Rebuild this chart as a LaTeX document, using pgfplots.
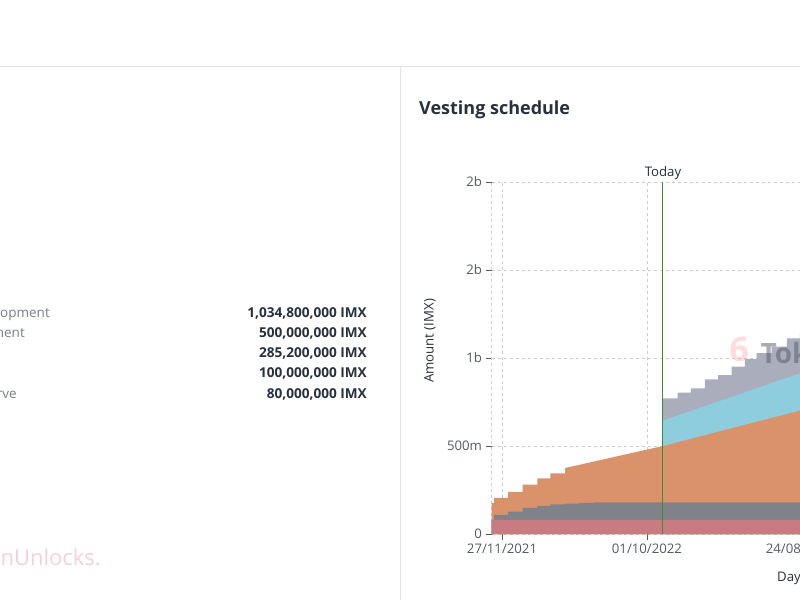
\documentclass[border=0pt]{standalone}
\usepackage{fontspec}
\setmainfont{Open Sans}
\usepackage{pgfplots}
\pgfplotsset{compat=1.18}
\definecolor{cPink}{HTML}{C97B82}
\definecolor{cGray}{HTML}{808289}
\definecolor{cOrange}{HTML}{D9926A}
\definecolor{cBlue}{HTML}{8ECDDD}
\definecolor{cSlate}{HTML}{AAADBB}
\definecolor{cGreen}{HTML}{3D8C3D}
\definecolor{cLine}{HTML}{E3E3E3}
\definecolor{cGrid}{HTML}{CCCCCC}
\definecolor{cTick}{HTML}{555B66}
\definecolor{cDark}{HTML}{27303D}
\definecolor{cLabel}{HTML}{7A7F87}
\definecolor{cWm}{HTML}{F4D0DC}
\begin{document}
\begin{tikzpicture}[x=1pt,y=1pt]
\path[use as bounding box] (0,0) rectangle (800,600);
\clip (0,0) rectangle (800,600);
\fill[white] (0,0) rectangle (800,600);
\draw[cLine, line width=1pt] (0,533) -- (800,533);
\draw[cLine, line width=1pt] (400,533) -- (400,0);
% left panel
\begin{scope}[every node/.style={inner sep=0pt}]
\node[anchor=base east, text=cLabel, font=\fontsize{13.5}{15}\selectfont] at (50,282) {Ecosystem Development};
\node[anchor=base east, text=cLabel, font=\fontsize{13.5}{15}\selectfont] at (25,262) {Project Development};
\node[anchor=base east, text=cLabel, font=\fontsize{13.5}{15}\selectfont] at (17,201) {Foundation Reserve};
\node[anchor=base east, text=cDark, font=\fontsize{13.6}{15}\selectfont\bfseries] at (367,282) {1,034,800,000 IMX};
\node[anchor=base east, text=cDark, font=\fontsize{13.6}{15}\selectfont\bfseries] at (367,262) {500,000,000 IMX};
\node[anchor=base east, text=cDark, font=\fontsize{13.6}{15}\selectfont\bfseries] at (367,242) {285,200,000 IMX};
\node[anchor=base east, text=cDark, font=\fontsize{13.6}{15}\selectfont\bfseries] at (367,222) {100,000,000 IMX};
\node[anchor=base east, text=cDark, font=\fontsize{13.6}{15}\selectfont\bfseries] at (367,201) {80,000,000 IMX};
\node[anchor=base east, text=cWm, font=\fontsize{22}{26}\selectfont] at (101,35) {TokenUnlocks.};
% right panel texts
\node[anchor=base west, text=cDark, font=\fontsize{18}{21}\selectfont\bfseries] at (419,485) {Vesting schedule};
\node[anchor=center, text=cDark, font=\fontsize{13.2}{15}\selectfont] at (663,427) {Today};
\node[anchor=center, rotate=90, text=cDark, font=\fontsize{13.2}{15}\selectfont] at (430,259) {Amount (IMX)};
\node[anchor=base west, text=cDark, font=\fontsize{13.2}{15}\selectfont] at (777,19) {Days};
\end{scope}
\begin{axis}[
  at={(491.5pt,66pt)}, anchor=south west,
  scale only axis, width=340pt, height=352pt,
  xmin=-22.3, xmax=700, ymin=0, ymax=2000,
  axis line style={draw=none},
  xtick={0,308,635}, xticklabels={27/11/2021,01/10/2022,24/08/2023},
  ytick={0,500,1000,1500,2000}, yticklabels={0,500m,1b,2b,2b},
  extra x ticks={-22.3}, extra x tick labels={},
  extra x tick style={major tick length=0pt},
  tick align=outside, xtick pos=bottom, ytick pos=left,
  major tick length=6pt,
  tick style={cTick, line width=0.8pt},
  grid=major,
  major grid style={cGrid, dash pattern=on 3pt off 3pt, line width=0.7pt},
  ticklabel style={text=cTick, font=\fontsize{13.2}{15}\selectfont},
  /pgf/number format/assume math mode=true,
  clip=false,
]
\addplot[fill=cSlate, draw=none] coordinates {(342,0)(342,771)(373,771)(373,803)(401,803)(401,828)(431,828)(431,879)(459,879)(459,903)(488,903)(488,951)(516,951)(516,994)(541,994)(541,1027)(573,1027)(573,1064)(605,1064)(605,1112)(633,1112)(633,1136)(665,1136)(665,1165)(700,1165)(700,0)} \closedcycle;
\addplot[fill=cBlue, draw=none] coordinates {(342,0)(342,645)(633,913)(700,975)(700,0)} \closedcycle;
\addplot[fill=cOrange, draw=none] coordinates {(-22,0)(-22,176)(-17,176)(-17,205)(13,205)(13,240)(44,240)(44,280)(75,280)(75,316)(103,316)(103,345)(134,345)(134,375)(342,500)(633,701)(700,747)(700,0)} \closedcycle;
\addplot[fill=cGray, draw=none] coordinates {(-22,0)(-22,80)(-17,80)(-17,108)(13,108)(13,127)(44,127)(44,148)(75,148)(75,160)(103,160)(103,168)(134,168)(134,173)(164,173)(164,177)(195,177)(195,180)(700,180)(700,0)} \closedcycle;
\addplot[fill=cPink, draw=none] coordinates {(-22,0)(-22,80)(700,80)(700,0)} \closedcycle;
\addplot[cGreen, line width=1pt] coordinates {(342,0)(342,2000)};
\end{axis}
% chart watermark
\node[text=pink!80!red, opacity=0.35, font=\fontsize{34}{38}\selectfont\bfseries] at (739,251) {6};
\node[anchor=west, text=cTick, opacity=0.5, font=\fontsize{28}{32}\selectfont\bfseries] at (757,247) {TokenUnlocks};
\end{tikzpicture}
\end{document}
